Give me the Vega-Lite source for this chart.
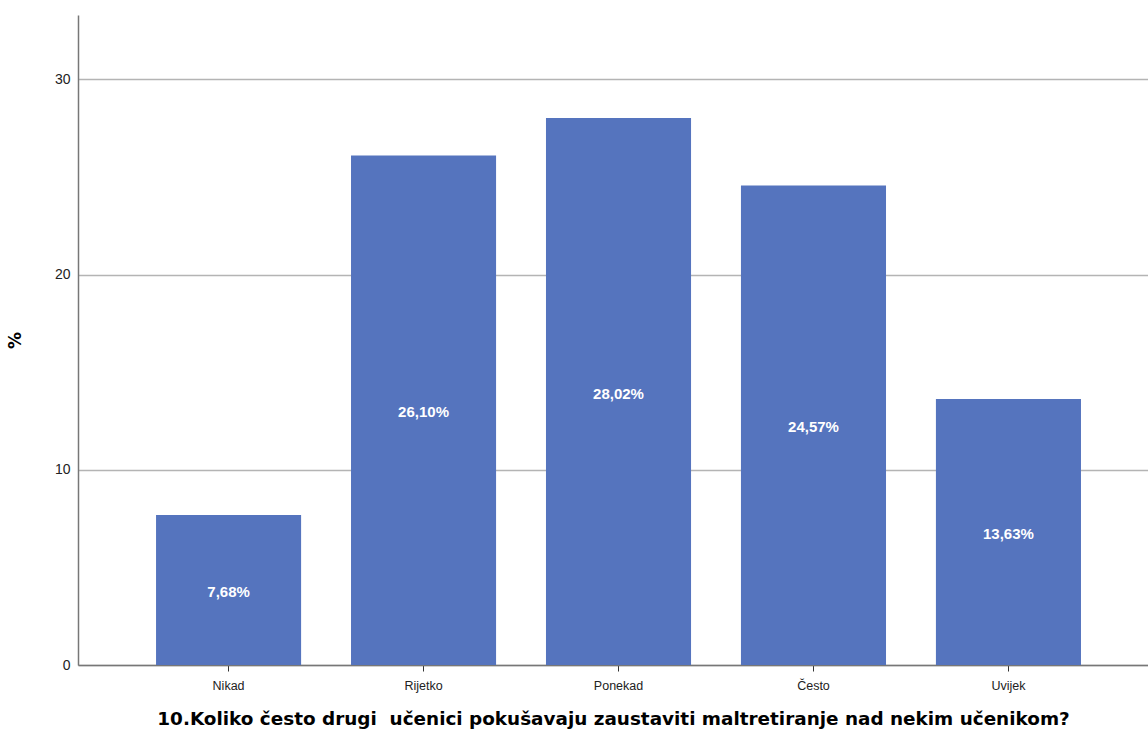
{
  "$schema": "https://vega.github.io/schema/vega-lite/v6.json",
  "width": 1070,
  "height": 650,
  "autosize": {"type": "none"},
  "padding": {"left": 78, "top": 15, "right": 0, "bottom": 64},
  "background": "white",
  "config": {
    "view": {"stroke": null},
    "font": "Liberation Sans"
  },
  "data": {
    "values": [
      {"kat": "Nikad", "pct": 7.68, "label": "7,68%"},
      {"kat": "Rijetko", "pct": 26.10, "label": "26,10%"},
      {"kat": "Ponekad", "pct": 28.02, "label": "28,02%"},
      {"kat": "Često", "pct": 24.57, "label": "24,57%"},
      {"kat": "Uvijek", "pct": 13.63, "label": "13,63%"}
    ]
  },
  "encoding": {
    "x": {
      "field": "kat",
      "type": "nominal",
      "sort": null,
      "scale": {"paddingInner": 0.256, "paddingOuter": 0.372, "align": 0.538},
      "axis": {
        "title": "10.Koliko često drugi\u00a0 učenici pokušavaju zaustaviti maltretiranje nad nekim učenikom?",
        "titleFont": "DejaVu Sans",
        "titleFontSize": 18.4,
        "titleFontWeight": "bold",
        "titleColor": "#000000",
        "titlePadding": 18,
        "labelAngle": 0,
        "labelFontSize": 12.5,
        "labelColor": "#222222",
        "labelPadding": 8,
        "domainColor": "#777777",
        "domainWidth": 1.5,
        "tickColor": "#333333",
        "tickSize": 6,
        "tickWidth": 1
      }
    }
  },
  "layer": [
    {
      "mark": {"type": "bar", "color": "#5574BE"},
      "encoding": {
        "y": {
          "field": "pct",
          "type": "quantitative",
          "scale": {"domain": [0, 33.3], "nice": false},
          "axis": {
            "title": "%",
            "titleFont": "DejaVu Sans",
            "titleFontSize": 17,
            "titleFontWeight": "bold",
            "titleColor": "#000000",
            "titlePadding": 30,
            "values": [0, 10, 20, 30],
            "labelFontSize": 14,
            "labelColor": "#222222",
            "labelPadding": 8,
            "ticks": false,
            "domainColor": "#777777",
            "domainWidth": 1.5,
            "grid": true,
            "gridColor": "#b4b4b4",
            "gridWidth": 1.5
          }
        }
      }
    },
    {
      "mark": {"type": "text", "color": "white", "fontWeight": "bold", "fontSize": 15, "baseline": "middle", "dy": 2},
      "transform": [{"calculate": "datum.pct / 2", "as": "mid"}],
      "encoding": {
        "y": {"field": "mid", "type": "quantitative"},
        "text": {"field": "label"}
      }
    }
  ]
}
